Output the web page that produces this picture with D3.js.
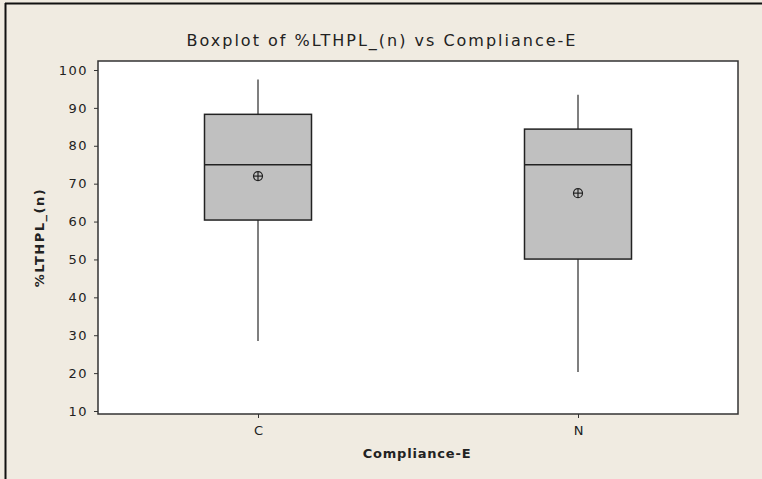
<!DOCTYPE html>
<html>
<head>
<meta charset="utf-8">
<script src="https://cdn.jsdelivr.net/npm/d3@7"></script>
<style>
  html, body { margin: 0; padding: 0; background: #F0EBE1; }
  svg { display: block; }
</style>
</head>
<body>
<svg id="chart" width="762" height="479"></svg>
<script>
const categories = ["C", "N"];
const q1Values = [60.4, 50.1];
const medianValues = [75, 75];
const q3Values = [88.3, 84.4];
const whiskerLow = [28.5, 20.3];
const whiskerHigh = [97.5, 93.5];
const meanValues = [72.0, 67.5];
const yTicks = [10, 20, 30, 40, 50, 60, 70, 80, 90, 100];

const svg = d3.select("#chart");
const W = 762, H = 479;
const plot = { left: 98, top: 61, right: 738, bottom: 414 };

svg.append("rect").attr("x", 0).attr("y", 0).attr("width", W).attr("height", H).attr("fill", "#F0EBE1");
// outer frame lines (top and left)
svg.append("line").attr("x1", 5).attr("x2", W).attr("y1", 3.5).attr("y2", 3.5).attr("stroke", "#111").attr("stroke-width", 2);
svg.append("line").attr("x1", 5.5).attr("x2", 5.5).attr("y1", 3).attr("y2", H).attr("stroke", "#111").attr("stroke-width", 2);

svg.append("rect").attr("x", plot.left).attr("y", plot.top)
  .attr("width", plot.right - plot.left).attr("height", plot.bottom - plot.top)
  .attr("fill", "#fff");

const x = d3.scalePoint().domain(categories).range([plot.left, plot.right]).padding(0.5);
const y = d3.scaleLinear().domain([10, 100]).range([411, 70]);

const font = "'DejaVu Sans', Verdana, sans-serif";

// y axis
const yAxis = svg.append("g").attr("transform", `translate(${plot.left},0)`)
  .call(d3.axisLeft(y).tickValues(yTicks).tickSize(4).tickPadding(6).tickSizeOuter(0));
yAxis.select(".domain").remove();
yAxis.selectAll("line").attr("stroke", "#333");
yAxis.selectAll("text").attr("font-family", font).attr("font-size", 13)
  .attr("letter-spacing", "1.5px").attr("fill", "#222");

// x axis
const xAxis = svg.append("g").attr("transform", `translate(0,${plot.bottom})`)
  .call(d3.axisBottom(x).tickSize(4).tickPadding(8).tickSizeOuter(0));
xAxis.select(".domain").remove();
xAxis.selectAll("line").attr("stroke", "#333");
xAxis.selectAll("text").attr("font-family", font).attr("font-size", 13).attr("fill", "#222");

const boxW = 107;
const data = categories.map((c, i) => ({
  c, q1: q1Values[i], med: medianValues[i], q3: q3Values[i],
  lo: whiskerLow[i], hi: whiskerHigh[i], mean: meanValues[i]
}));

const g = svg.append("g");
// whiskers
g.selectAll(".wh-top").data(data).enter().append("line")
  .attr("x1", d => x(d.c)).attr("x2", d => x(d.c))
  .attr("y1", d => y(d.hi)).attr("y2", d => y(d.q3))
  .attr("stroke", "#555").attr("stroke-width", 1.5);
g.selectAll(".wh-bot").data(data).enter().append("line")
  .attr("x1", d => x(d.c)).attr("x2", d => x(d.c))
  .attr("y1", d => y(d.q1)).attr("y2", d => y(d.lo))
  .attr("stroke", "#555").attr("stroke-width", 1.5);
// boxes
g.selectAll(".box").data(data).enter().append("rect")
  .attr("x", d => x(d.c) - boxW / 2).attr("width", boxW)
  .attr("y", d => y(d.q3)).attr("height", d => y(d.q1) - y(d.q3))
  .attr("fill", "#C0C0C0").attr("stroke", "#222").attr("stroke-width", 1.5);
// medians
g.selectAll(".med").data(data).enter().append("line")
  .attr("x1", d => x(d.c) - boxW / 2).attr("x2", d => x(d.c) + boxW / 2)
  .attr("y1", d => y(d.med)).attr("y2", d => y(d.med))
  .attr("stroke", "#222").attr("stroke-width", 1.5);
// means: circle with cross
const m = g.selectAll(".mean").data(data).enter().append("g")
  .attr("transform", d => `translate(${x(d.c)},${y(d.mean)})`);
m.append("circle").attr("r", 4.5).attr("fill", "none").attr("stroke", "#222").attr("stroke-width", 1.2);
m.append("line").attr("x1", -4.5).attr("x2", 4.5).attr("stroke", "#222").attr("stroke-width", 1.2);
m.append("line").attr("y1", -4.5).attr("y2", 4.5).attr("stroke", "#222").attr("stroke-width", 1.2);

// plot frame
svg.append("rect").attr("x", plot.left).attr("y", plot.top)
  .attr("width", plot.right - plot.left).attr("height", plot.bottom - plot.top)
  .attr("fill", "none").attr("stroke", "#333").attr("stroke-width", 1.5);

// title
svg.append("text").attr("x", 382).attr("y", 46).attr("text-anchor", "middle")
  .attr("font-family", font).attr("font-size", 16).attr("letter-spacing", "2px").attr("fill", "#222")
  .text("Boxplot of %LTHPL_(n) vs Compliance-E");

// x label
svg.append("text").attr("x", 417).attr("y", 458).attr("text-anchor", "middle")
  .attr("font-family", font).attr("font-size", 13).attr("font-weight", "bold")
  .attr("letter-spacing", "0.8px").attr("fill", "#222")
  .text("Compliance-E");

// y label
svg.append("text").attr("transform", `translate(44,${(plot.top + plot.bottom) / 2}) rotate(-90)`)
  .attr("text-anchor", "middle")
  .attr("font-family", font).attr("font-size", 13).attr("font-weight", "bold")
  .attr("letter-spacing", "1.5px").attr("fill", "#222")
  .text("%LTHPL_(n)");
</script>
</body>
</html>
